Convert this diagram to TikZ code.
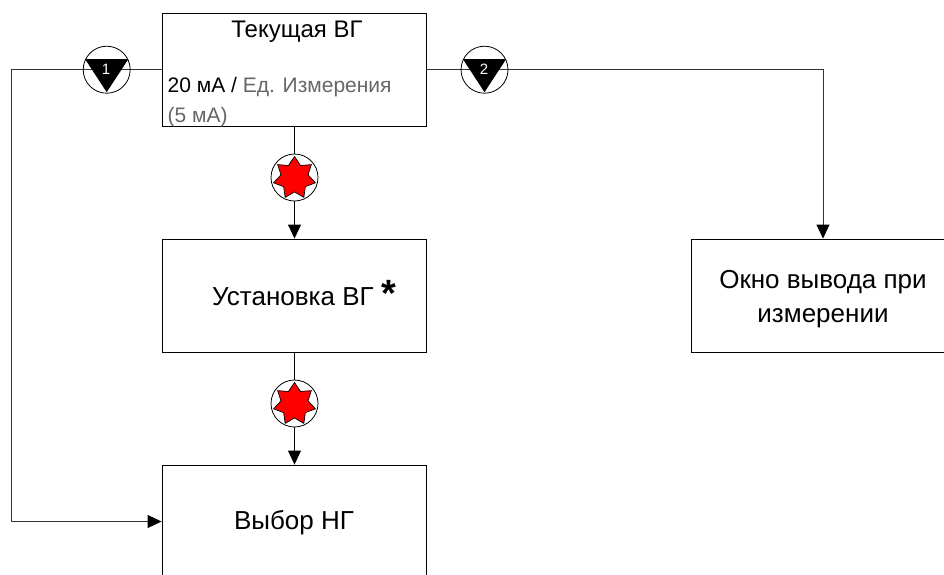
\documentclass[tikz,border=0pt]{standalone}
\usepackage{fontspec}
\setmainfont{Liberation Sans}
\usetikzlibrary{arrows.meta,shapes.geometric}
\definecolor{unit}{HTML}{666666}
\definecolor{wire}{HTML}{333333}
\tikzset{
  stepbox/.style={draw=black,line width=0.9pt,minimum width=264pt,minimum height=113pt,inner sep=0pt,align=center,font=\fontsize{26}{34}\selectfont},
  txt/.style={inner sep=0pt,font=\fontsize{21}{31}\selectfont},
  conn/.style={draw=wire,line width=0.9pt},
  tip/.style={-{Triangle[length=14pt,width=13pt,color=black]}},
  ring/.style={circle,draw=black,line width=0.8pt,minimum size=47pt,inner sep=0pt},
  redstar/.style={star,star points=7,star point ratio=1.55,minimum size=43pt,inner sep=0pt,draw=black,line width=0.7pt,fill=red},
  num/.style={inner sep=0pt,text=white,font=\fontsize{15}{15}\selectfont}
}
\begin{document}
\begin{tikzpicture}[x=1pt,y=-1pt]
\useasboundingbox (0,0) rectangle (944,574);
\clip (0,0) rectangle (944,574);
\fill[white] (0,0) rectangle (944,574);
% boxes
\node[stepbox] (cur) at (294,69.5) {};
\node[stepbox] (set) at (294,295.5) {};
\node[stepbox] (sel) at (294,521.5) {};
\node[stepbox] (out) at (823,295.5) {};
% box texts
\node[txt,font=\fontsize{24}{24}\selectfont] (curt) at (297,32) {Текущая ВГ};
\node[txt,anchor=base west] (curv) at (167.5,92) {20 мА / \textcolor{unit}{Ед. Измерения}};
\node[txt,anchor=base west,text=unit] (curu) at (167.5,122) {(5 мА)};
\node[txt,anchor=base west,font=\fontsize{26}{26}\selectfont] (sett) at (212,305) {Установка ВГ};
\node[inner sep=0pt,anchor=base west,font=\fontsize{38}{38}\selectfont\bfseries] (setst) at (381.5,306) {*};
\node[txt,font=\fontsize{26}{26}\selectfont] (selt) at (294,523) {Выбор НГ};
\node[txt,font=\fontsize{26}{34}\selectfont,align=center] (outt) at (823,299) {Окно вывода при\\измерении};
% coordinates and marker positions
\coordinate (lc) at (11,69.5);
\coordinate (m1) at (106.7,69.7);
\coordinate (m2) at (484.5,69.7);
% connectors
\draw[conn,tip] (cur.west) -- (lc) |- (sel.west);
\draw[conn,tip] (cur.east) -| (out.north);
\node[ring,fill=white] (s1) at (294.5,177.5) {};
\node[ring,fill=white] (s2) at (294.5,403.5) {};
\draw[line width=0.9pt,draw=black] (cur.south -| s1) -- (s1.north);
\draw[line width=0.9pt,draw=black,tip] (s1.south) -- (s1.south |- set.north);
\draw[line width=0.9pt,draw=black] (set.south -| s2) -- (s2.north);
\draw[line width=0.9pt,draw=black,tip] (s2.south) -- (s2.south |- sel.north);
\node[redstar] (r1) at (294.5,178) {};
\node[redstar] (r2) at (294.5,404) {};
% numbered markers
\node[ring] (c1) at (m1) {};
\node[ring] (c2) at (m2) {};
\fill[black] ([shift={(-21.7,-10.7)}]c1.center) -- ([shift={(21.7,-10.7)}]c1.center) -- ([shift={(0,22.5)}]c1.center) -- cycle;
\fill[black] ([shift={(-21.7,-10.7)}]c2.center) -- ([shift={(21.7,-10.7)}]c2.center) -- ([shift={(0,22.5)}]c2.center) -- cycle;
\node[num] (n1) at (106,69.5) {1};
\node[num] (n2) at (484,69.5) {2};
\end{tikzpicture}
\end{document}
